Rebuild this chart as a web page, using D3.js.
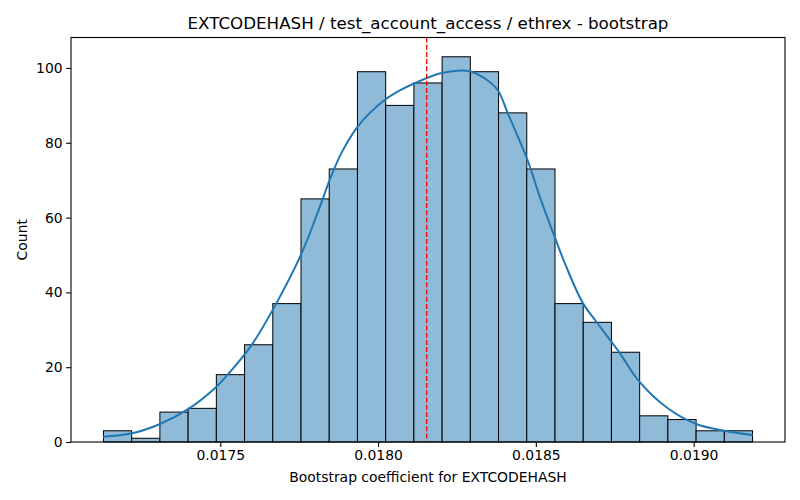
<!DOCTYPE html>
<html>
<head>
<meta charset="utf-8">
<script src="https://cdn.jsdelivr.net/npm/d3@7"></script>
<style>
  body { margin: 0; background: #fff; }
  text { font-family: "DejaVu Sans", sans-serif; fill: #000; }
</style>
</head>
<body>
<div id="chart"></div>
<script>
// bin edges of the bootstrap histogram (24 edges -> 23 bins)
var binEdges = [0.01712975, 0.01721918, 0.01730861, 0.01739804, 0.01748747, 0.01757690,
  0.01766633, 0.01775576, 0.01784519, 0.01793462, 0.01802405, 0.01811348, 0.01820291,
  0.01829234, 0.01838177, 0.01847120, 0.01856063, 0.01865006, 0.01873949, 0.01882892,
  0.01891835, 0.01900778, 0.01909721, 0.01918664];

// counts per bin
var binCounts = [3, 1, 8, 9, 18, 26, 37, 65, 73, 99, 90, 96, 103, 99, 88, 73, 37, 32, 24, 7, 6, 3, 3];

// kde curve
var kdeX = [0.017128, 0.017220, 0.017309, 0.017399, 0.017487, 0.017525, 0.017599, 0.017678,
  0.017758, 0.017816, 0.017847, 0.017884, 0.017933, 0.017974, 0.018023, 0.018069, 0.018114,
  0.018195, 0.018262, 0.018290, 0.018343, 0.018380, 0.018410, 0.018473, 0.018512, 0.018559,
  0.018596, 0.018649, 0.018691, 0.018739, 0.018765, 0.018828, 0.018918, 0.019008, 0.019097,
  0.019187];
var kdeY = [1.42, 2.33, 4.82, 8.84, 14.73, 18.13, 25.89, 37.13, 50.52, 63.0, 70.15, 77.3,
  84.07, 88.0, 91.57, 93.98, 95.85, 98.53, 99.33, 99.14, 96.92, 93.98, 88.09, 75.5, 65.68,
  54.97, 46.93, 37.13, 32.21, 26.85, 23.91, 16.14, 9.02, 4.82, 3.03, 1.87];

// observed coefficient (red dashed line)
var observed = 0.018154;

var xTicks = [0.0175, 0.0180, 0.0185, 0.0190];
var yTicks = [0, 20, 40, 60, 80, 100];

var titulo = "EXTCODEHASH / test_account_access / ethrex - bootstrap";
var xLabel = "Bootstrap coefficient for EXTCODEHASH";
var yLabel = "Count";

// dimensiones del area de dibujo
var W = 800, H = 500;
var margin = { left: 71, right: 785, top: 37.5, bottom: 442 };

var lo = binEdges[0], hi = binEdges[binEdges.length - 1];
var pad = (hi - lo) * 0.05;
var x = d3.scaleLinear().domain([lo - pad, hi + pad]).range([margin.left, margin.right]);
var y = d3.scaleLinear().domain([0, d3.max(binCounts) * 1.05]).range([margin.bottom, margin.top]);

var svg = d3.select("#chart").append("svg")
    .attr("width", W)
    .attr("height", H);

svg.append("rect").attr("width", W).attr("height", H).attr("fill", "#fff");

// barras
var bins = binCounts.map(function(c, i) {
    return { x0: binEdges[i], x1: binEdges[i + 1], count: c };
});

svg.append("g").selectAll("rect").data(bins).enter()
    .append("rect")
    .attr("x", d => x(d.x0))
    .attr("y", d => y(d.count))
    .attr("width", d => x(d.x1) - x(d.x0))
    .attr("height", d => y(0) - y(d.count))
    .attr("fill", "#8fbbd9")
    .attr("stroke", "#000")
    .attr("stroke-width", 1);

// curva kde
var kde = kdeX.map((v, i) => ({ x: v, y: kdeY[i] }));
var linea = d3.line()
    .x(d => x(d.x))
    .y(d => y(d.y))
    .curve(d3.curveCatmullRom.alpha(0.5));

svg.append("path")
    .datum(kde)
    .attr("fill", "none")
    .attr("stroke", "#1f77b4")
    .attr("stroke-width", 2)
    .attr("d", linea);

// linea roja
svg.append("line")
    .attr("x1", x(observed)).attr("x2", x(observed))
    .attr("y1", margin.top).attr("y2", margin.bottom)
    .attr("stroke", "red")
    .attr("stroke-width", 1.3)
    .attr("stroke-dasharray", "5,2.2");

// ejes
var xAxis = d3.axisBottom(x).tickValues(xTicks).tickFormat(d3.format(".4f"))
    .tickSize(4.9).tickPadding(3.5);
var yAxis = d3.axisLeft(y).tickValues(yTicks).tickFormat(d3.format("d"))
    .tickSize(4.9).tickPadding(3.5);

var gx = svg.append("g")
    .attr("transform", "translate(0," + margin.bottom + ")")
    .call(xAxis);
var gy = svg.append("g")
    .attr("transform", "translate(" + margin.left + ",0)")
    .call(yAxis);

[gx, gy].forEach(function(g) {
    g.select(".domain").remove();
    g.selectAll(".tick line").attr("stroke", "#000").attr("stroke-width", 1.1);
    g.selectAll(".tick text").style("font-size", "13.9px").attr("fill", "#000");
});

// marco
svg.append("rect")
    .attr("x", margin.left).attr("y", margin.top)
    .attr("width", margin.right - margin.left).attr("height", margin.bottom - margin.top)
    .attr("fill", "none")
    .attr("stroke", "#000")
    .attr("stroke-width", 1.1);

// textos
svg.append("text")
    .attr("x", (margin.left + margin.right) / 2)
    .attr("y", 29)
    .attr("text-anchor", "middle")
    .style("font-size", "16.7px")
    .text(titulo);

svg.append("text")
    .attr("x", (margin.left + margin.right) / 2)
    .attr("y", 482)
    .attr("text-anchor", "middle")
    .style("font-size", "13.9px")
    .text(xLabel);

svg.append("text")
    .attr("transform", "translate(27," + ((margin.top + margin.bottom) / 2) + ") rotate(-90)")
    .attr("text-anchor", "middle")
    .style("font-size", "13.9px")
    .text(yLabel);
</script>
</body>
</html>
